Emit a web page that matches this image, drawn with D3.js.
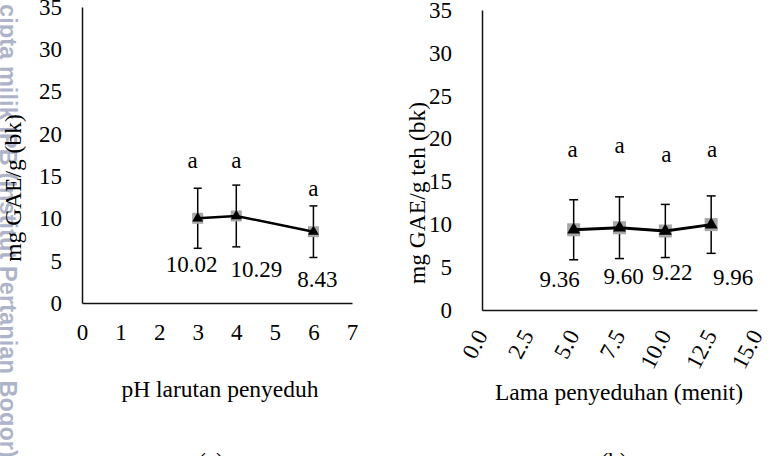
<!DOCTYPE html>
<html><head><meta charset="utf-8">
<script src="https://cdn.jsdelivr.net/npm/d3@7"></script>
<style>
body{margin:0;background:#fff}
svg{display:block}
text{font-family:"Liberation Serif","Times New Roman",serif;fill:#000}
</style>
</head><body>
<script>
// ---------- data ----------
const phValues   = [3, 4, 6];
const phMeans    = [10.02, 10.29, 8.43];
const phErrors   = [3.55, 3.65, 3.05];
const phLetters  = ["a", "a", "a"];
const phLabels   = ["10.02", "10.29", "8.43"];

const timeValues  = [5, 7.5, 10, 12.5];
const timeMeans   = [9.36, 9.60, 9.22, 9.96];
const timeErrors  = [3.5, 3.6, 3.1, 3.35];
const timeLetters = ["a", "a", "a", "a"];
const timeLabels  = ["9.36", "9.60", "9.22", "9.96"];

const yTicks    = [0, 5, 10, 15, 20, 25, 30, 35];
const phTicks   = [0, 1, 2, 3, 4, 5, 6, 7];
const timeTicks = [0, 2.5, 5, 7.5, 10, 12.5, 15];

// ---------- layout ----------
const W = 780, H = 456;
const svg = d3.select("body").append("svg").attr("width", W).attr("height", H);

// watermark (visible part spans the full height)
const wmVisible = "cipta milik IPB (Institut Pertanian Bogor)";
const wmStyle = t => t
  .style("font-family", "'Liberation Sans', Arial, sans-serif")
  .style("font-weight", "bold")
  .style("font-size", "23.5px");
const probe = wmStyle(svg.append("text").text(wmVisible));
const probeLen = probe.node().getComputedTextLength();
probe.remove();
const spacing = Math.max(0, (454 - probeLen) / wmVisible.length);
wmStyle(svg.append("text"))
  .attr("transform", "translate(-0.5,458) rotate(90)")
  .attr("text-anchor", "end")
  .style("letter-spacing", spacing + "px")
  .style("fill", "#adb4ca")
  .text("Hak " + wmVisible);

function panel(cfg) {
  const x = d3.scaleLinear().domain(cfg.xDomain).range(cfg.xRange);
  const y = d3.scaleLinear().domain([0, 35]).range(cfg.yRange);
  const g = svg.append("g");

  // y axis
  const ya = g.append("g").attr("transform", `translate(${cfg.xRange[0]},0)`)
    .call(d3.axisLeft(y).tickValues(yTicks).tickSize(0).tickPadding(cfg.yPad).tickFormat(d3.format("d")));
  ya.attr("font-family", null).attr("font-size", null);
  ya.select(".domain").attr("stroke", "#111").attr("stroke-width", 1.5);
  ya.selectAll("text").style("font-size", "23px");

  // x axis
  const xa = g.append("g").attr("transform", `translate(0,${cfg.yRange[0]})`)
    .call(d3.axisBottom(x).tickValues(cfg.xTicks).tickSize(0).tickPadding(cfg.xPad).tickFormat(cfg.xFormat));
  xa.attr("font-family", null).attr("font-size", null);
  xa.select(".domain").attr("stroke", "#111").attr("stroke-width", 1.5);
  xa.selectAll("text").style("font-size", "23px");
  if (cfg.rotate) {
    xa.selectAll("text")
      .attr("y", null).attr("dy", null)
      .attr("text-anchor", "end")
      .attr("transform", `translate(6,25) rotate(-62)`);
  }

  const pts = cfg.xs.map((v, i) => ({x: v, m: cfg.means[i], e: cfg.errs[i], l: cfg.letters[i], lab: cfg.labels[i], i}));

  // error bars
  const eb = g.append("g").attr("stroke", "#000").attr("stroke-width", 1.5);
  pts.forEach(p => {
    const cx = x(p.x), t = y(p.m + p.e), b = y(p.m - p.e), c = cfg.cap / 2;
    eb.append("line").attr("x1", cx).attr("x2", cx).attr("y1", t).attr("y2", b);
    eb.append("line").attr("x1", cx - c).attr("x2", cx + c).attr("y1", t).attr("y2", t);
    eb.append("line").attr("x1", cx - c).attr("x2", cx + c).attr("y1", b).attr("y2", b);
  });

  // gray square markers
  g.selectAll("rect.sq").data(pts).join("rect")
    .attr("x", d => x(d.x) - cfg.sq / 2).attr("y", d => y(d.m) - cfg.sq / 2)
    .attr("width", cfg.sq).attr("height", cfg.sq).attr("fill", "#a6a6a6");

  // line
  g.append("path").datum(pts)
    .attr("d", d3.line().x(d => x(d.x)).y(d => y(d.m)))
    .attr("fill", "none").attr("stroke", "#000").attr("stroke-width", cfg.lw);

  // triangles
  g.selectAll("path.tri").data(pts).join("path")
    .attr("transform", d => `translate(${x(d.x)},${y(d.m)})`)
    .attr("d", d3.symbol(d3.symbolTriangle, cfg.tri));

  // letters
  g.selectAll("text.let").data(pts).join("text")
    .attr("x", d => x(d.x) + cfg.letDx[d.i])
    .attr("y", d => y(d.m + d.e) + cfg.letDy[d.i])
    .attr("text-anchor", "middle").style("font-size", "23px")
    .text(d => d.l);

  // value labels
  g.selectAll("text.val").data(pts).join("text")
    .attr("x", d => x(d.x) + cfg.valDx[d.i])
    .attr("y", d => y(d.m - d.e) + cfg.valDy[d.i])
    .attr("text-anchor", "middle").style("font-size", "23px")
    .text(d => d.lab);

  // axis titles
  g.append("text")
    .attr("transform", `translate(${cfg.yTitleX},${cfg.yTitleY}) rotate(-90)`)
    .attr("text-anchor", "middle").style("font-size", "23.5px").text(cfg.yTitle);
  g.append("text")
    .attr("x", cfg.xTitleX).attr("y", cfg.xTitleY)
    .attr("text-anchor", "middle").style("font-size", "23.5px").text(cfg.xTitle);
  g.append("text")
    .attr("x", cfg.capX).attr("y", 469)
    .attr("text-anchor", "middle").style("font-size", "23px").text(cfg.caption);
}

panel({
  xs: phValues, means: phMeans, errs: phErrors, letters: phLetters, labels: phLabels,
  xDomain: [0, 7], xRange: [82, 352], yRange: [303, 7], xTicks: phTicks,
  xFormat: d3.format("d"), yPad: 20, xPad: 21, rotate: false,
  cap: 8, sq: 11, tri: 52, lw: 2.5,
  letDx: [-5, 0, 0], letDy: [-20, -17, -10],
  valDx: [-6, 20, 4], valDy: [24, 30, 29],
  yTitle: "mg GAE/g (bk)", yTitleX: 21, yTitleY: 188,
  xTitle: "pH larutan penyeduh", xTitleX: 220, xTitleY: 397,
  caption: "(a)", capX: 211
});

panel({
  xs: timeValues, means: timeMeans, errs: timeErrors, letters: timeLetters, labels: timeLabels,
  xDomain: [0, 15], xRange: [482, 757], yRange: [310, 10], xTicks: timeTicks,
  xFormat: d3.format(".1f"), yPad: 30, xPad: 0, rotate: true,
  cap: 9, sq: 13, tri: 73, lw: 3,
  letDx: [-1, 0, 1, 1], letDy: [-43, -44, -42, -39],
  valDx: [-14, 4, 7, 22], valDy: [27, 25, 22, 32],
  yTitle: "mg GAE/g teh (bk)", yTitleX: 425, yTitleY: 193,
  xTitle: "Lama penyeduhan (menit)", xTitleX: 619, xTitleY: 400,
  caption: "(b)", capX: 614
});
</script>
</body></html>
